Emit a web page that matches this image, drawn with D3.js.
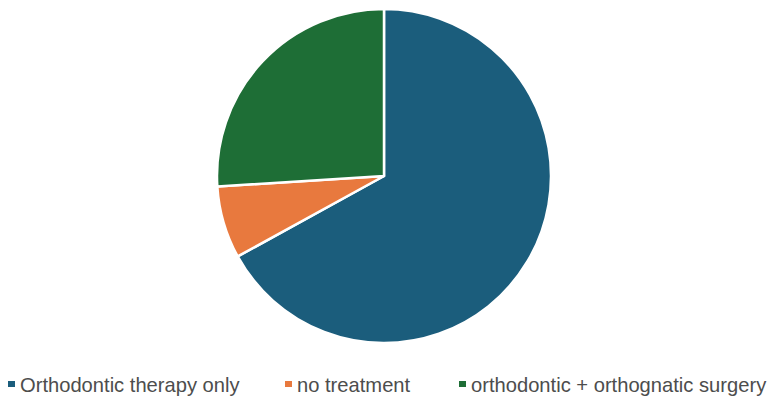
<!DOCTYPE html>
<html>
<head>
<meta charset="utf-8">
<script src="https://cdn.jsdelivr.net/npm/d3@7"></script>
<style>
  html, body { margin: 0; padding: 0; background: #fff; }
  svg { display: block; }
</style>
</head>
<body>
<svg id="chart" width="770" height="397"></svg>
<script>
// Treatment groups and their shares (%)
const categories = ["Orthodontic therapy only", "no treatment", "orthodontic + orthognatic surgery"];
const values = [67, 7, 26];
const colors = ["#1b5d7c", "#e8793e", "#1e6e36"];

const svg = d3.select("#chart");
const cx = 384, cy = 176, radius = 167;

const pie = d3.pie().sort(null).value(d => d)(values);
const arc = d3.arc().innerRadius(0).outerRadius(radius);

svg.append("g")
  .attr("transform", `translate(${cx},${cy})`)
  .selectAll("path")
  .data(pie)
  .join("path")
  .attr("d", arc)
  .attr("fill", (d, i) => colors[i])
  .attr("stroke", "#fff")
  .attr("stroke-width", 2.5)
  .attr("stroke-linejoin", "round");

// Legend along the bottom
const legendX = [8, 285, 459];
const legend = svg.append("g")
  .selectAll("g")
  .data(categories)
  .join("g")
  .attr("transform", (d, i) => `translate(${legendX[i]},381)`);

legend.append("rect")
  .attr("x", 0).attr("y", 0)
  .attr("width", 7).attr("height", 6)
  .attr("fill", (d, i) => colors[i]);

legend.append("text")
  .attr("transform", "translate(12,11) scale(0.96,1)")
  .attr("font-family", "Liberation Sans, Arial, sans-serif")
  .attr("font-size", 21)
  .attr("fill", "#4d4d4d")
  .text(d => d);
</script>
</body>
</html>
